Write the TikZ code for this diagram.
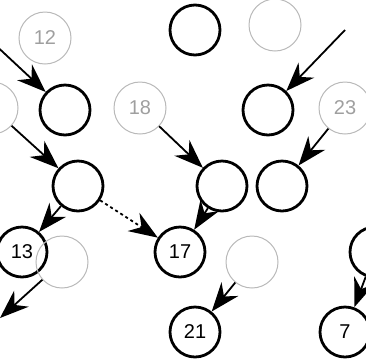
\documentclass[tikz,border=0pt]{standalone}
\usepackage{fontspec}
\setsansfont{Liberation Sans}
\usetikzlibrary{arrows.meta}
\begin{document}
\begin{tikzpicture}[x=1pt,y=-1pt,
  vtx/.style={circle,draw=black,line width=2.8pt,minimum size=50pt,inner sep=0pt,
    font=\sffamily\fontsize{20}{20}\selectfont},
  lbl/.style={circle,draw=gray!55,line width=1pt,minimum size=52pt,inner sep=0pt,
    font=\sffamily\fontsize{20}{20}\selectfont,text=gray!75},
  link/.style={-{Stealth[scale=2.6]},line width=1.8pt},
  ]
\useasboundingbox (0,0) rectangle (366,360);
\clip (0,0) rectangle (366,360);

% top level
\node[vtx] (r1) at (195,30) {};
\node[lbl] (r2) at (275,25) {};
\node[lbl] (k12) at (45,38) {12};
\coordinate (ul) at (-10,40);
\coordinate (ur) at (345,30);

% second level
\node[vtx] (a1) at (65,110) {};
\node[vtx] (a2) at (268,110) {};
\node[lbl] (a0) at (-8,108) {};
\node[lbl] (k18) at (140,108) {18};
\node[lbl] (k23) at (345,108) {23};

% third level
\node[vtx] (b1) at (78,186) {};
\node[vtx] (b2) at (222,186) {};
\node[vtx] (b3) at (282,186) {};

% fourth level
\node[vtx] (k13) at (22,252) {13};
\node[vtx] (k17) at (180,252) {17};
\node[vtx] (c3) at (375,252) {};
\node[lbl] (c1) at (62,262) {};
\node[lbl] (c2) at (252,262) {};
\coordinate (ll) at (0,318);

% bottom level
\node[vtx] (k21) at (195,332) {21};
\node[vtx] (k7) at (345,332) {7};

% connectors
\draw[link] (ul) -- (a1);
\draw[link] (ur) -- (a2);
\draw[link] (a0) -- (b1);
\draw[link] (k18) -- (b2);
\draw[link] (k23) -- (b3);
\draw[link] (b1) -- (k13);
\draw[link,dashed] (b1) -- (k17);
\draw[link] (b2) -- (k17);
\draw[link] (c2) -- (k21);
\draw[link] (c1) -- (ll);
\draw[link] (c3) -- (k7);
\end{tikzpicture}
\end{document}
